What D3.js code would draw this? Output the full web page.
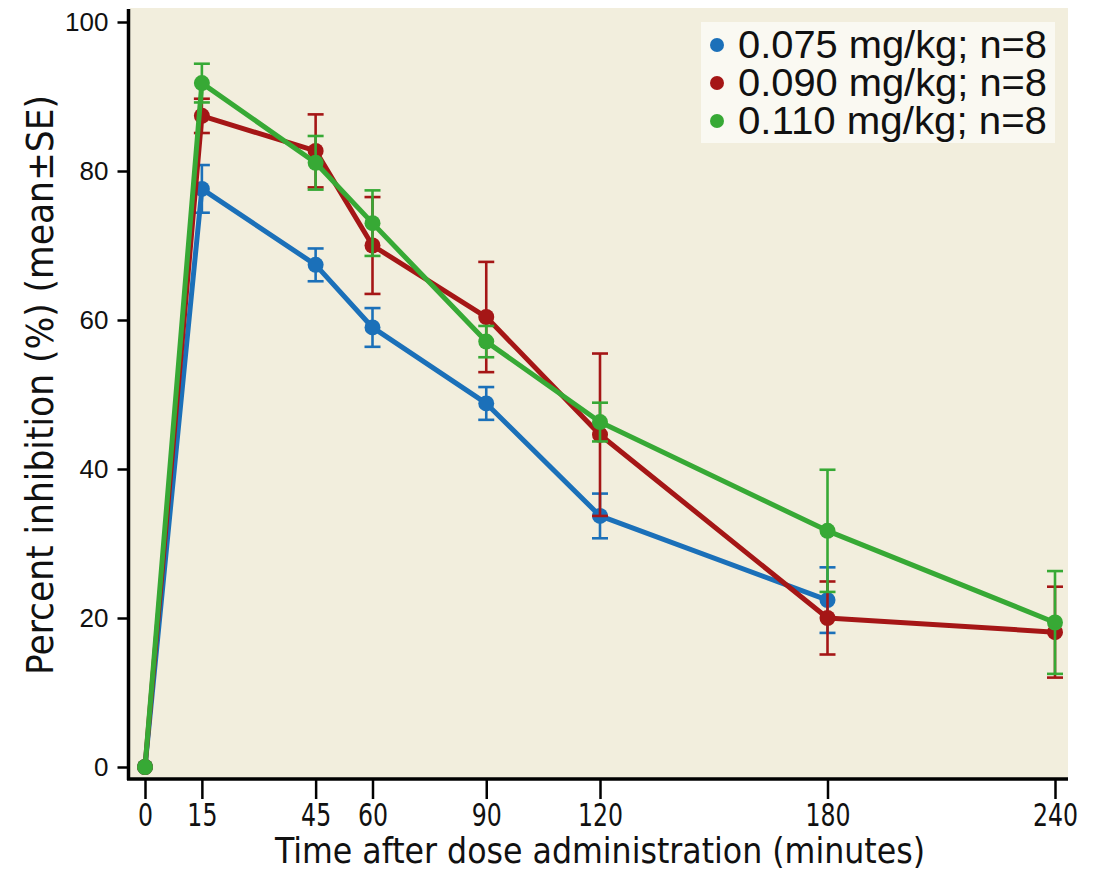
<!DOCTYPE html>
<html>
<head>
<meta charset="utf-8">
<script src="https://cdn.jsdelivr.net/npm/d3@7"></script>
<style>
  html, body { margin: 0; padding: 0; background: #fff; }
  svg { display: block; }
</style>
</head>
<body>
<div id="chart"></div>
<script>
  // Time points (minutes)
  const times = [0, 15, 45, 60, 90, 120, 180, 240];
  const tickValues = [0, 15, 45, 60, 90, 120, 180, 240];
  const yTicks = [0, 20, 40, 60, 80, 100];

  const seriesNames = ['0.075 mg/kg; n=8', '0.090 mg/kg; n=8', '0.110 mg/kg; n=8'];
  const seriesColors = ['#1b70b9', '#a51616', '#37a935'];

  // mean values, null where not measured
  const meanLow = [0, 77.6, 67.4, 59.0, 48.8, 33.7, 22.4, null];
  const meanMid = [0, 87.4, 82.7, 70.0, 60.4, 44.6, 20.0, 18.1];
  const meanHigh = [0, 91.8, 81.1, 73.0, 57.1, 46.3, 31.7, 19.4];

  // standard errors
  const seLow = [0, 3.2, 2.2, 2.6, 2.2, 3.0, 4.4, null];
  const seMid = [0, 2.3, 4.9, 6.5, 7.4, 10.9, 4.9, 6.1];
  const seHigh = [0, 2.6, 3.6, 4.4, 2.1, 2.6, 8.2, 6.9];

  const W = 1097, H = 872;
  const m = { left: 130, right: 30, top: 8, bottom: 94 };
  const narrow = '"DejaVu Sans Condensed", "Liberation Sans Narrow", sans-serif';

  const svg = d3.select('#chart').append('svg')
    .attr('width', W)
    .attr('height', H);

  const x = d3.scaleLinear().domain([0, 240]).range([145, 1055]);
  const y = d3.scaleLinear().domain([0, 100]).range([767, 22]);

  // plot background
  svg.append('rect')
    .attr('x', m.left)
    .attr('y', m.top)
    .attr('width', W - m.right - m.left + 1)
    .attr('height', H - m.bottom - m.top)
    .attr('fill', '#f2eedd');

  // axes
  const xAxis = svg.append('g')
    .attr('transform', `translate(0, ${H - m.bottom + 1})`)
    .call(d3.axisBottom(x).tickValues(tickValues).tickSize(20).tickPadding(4).tickSizeOuter(0));
  xAxis.select('.domain').attr('d', `M${m.left - 3},0H${W - m.right + 1}`).attr('stroke-width', 3.5);
  xAxis.selectAll('.tick line').attr('stroke-width', 2.5);
  xAxis.selectAll('.tick text')
    .attr('font-family', narrow)
    .attr('font-size', 32)
    .attr('transform', 'scale(0.82,1)')
    .attr('fill', '#111');

  const yAxis = svg.append('g')
    .attr('transform', `translate(${m.left - 1.5}, 0)`)
    .call(d3.axisLeft(y).tickValues(yTicks).tickSize(11).tickPadding(9).tickSizeOuter(0));
  yAxis.select('.domain').attr('d', `M0,${m.top + 1}V${H - m.bottom + 2}`).attr('stroke-width', 3.5);
  yAxis.selectAll('.tick line').attr('stroke-width', 2.5);
  yAxis.selectAll('.tick text')
    .attr('font-family', '"Liberation Sans", Arial, sans-serif')
    .attr('font-size', 26)
    .attr('fill', '#111');

  // axis titles
  svg.append('text')
    .attr('x', 600)
    .attr('y', 863)
    .attr('text-anchor', 'middle')
    .attr('font-family', narrow)
    .attr('font-size', 36)
    .attr('textLength', 650)
    .attr('lengthAdjust', 'spacingAndGlyphs')
    .attr('fill', '#111')
    .text('Time after dose administration (minutes)');

  svg.append('text')
    .attr('transform', `translate(53, 385) rotate(-90)`)
    .attr('text-anchor', 'middle')
    .attr('font-family', narrow)
    .attr('font-size', 37)
    .attr('textLength', 580)
    .attr('lengthAdjust', 'spacingAndGlyphs')
    .attr('fill', '#111')
    .text('Percent inhibition (%) (mean±SE)');

  const series = [
    { name: seriesNames[0], color: seriesColors[0], mean: meanLow, se: seLow },
    { name: seriesNames[1], color: seriesColors[1], mean: meanMid, se: seMid },
    { name: seriesNames[2], color: seriesColors[2], mean: meanHigh, se: seHigh }
  ].map(s => ({
    ...s,
    points: times.map((t, i) => ({ t, v: s.mean[i], e: s.se[i] })).filter(p => p.v != null)
  }));

  const line = d3.line().x(d => x(d.t)).y(d => y(d.v));
  const plot = svg.append('g');

  series.forEach(s => {
    const g = plot.append('g');
    // error bars
    const eb = g.selectAll('g.err')
      .data(s.points.filter(p => p.e > 0))
      .enter().append('g')
      .attr('stroke', s.color)
      .attr('stroke-width', 2.6);
    eb.append('line')
      .attr('x1', d => x(d.t)).attr('x2', d => x(d.t))
      .attr('y1', d => y(d.v + d.e)).attr('y2', d => y(d.v - d.e));
    eb.append('line')
      .attr('x1', d => x(d.t) - 8).attr('x2', d => x(d.t) + 8)
      .attr('y1', d => y(d.v + d.e)).attr('y2', d => y(d.v + d.e));
    eb.append('line')
      .attr('x1', d => x(d.t) - 8).attr('x2', d => x(d.t) + 8)
      .attr('y1', d => y(d.v - d.e)).attr('y2', d => y(d.v - d.e));

    g.append('path')
      .datum(s.points)
      .attr('fill', 'none')
      .attr('stroke', s.color)
      .attr('stroke-width', 5)
      .attr('stroke-linejoin', 'round')
      .attr('d', line);

    g.selectAll('circle')
      .data(s.points)
      .enter().append('circle')
      .attr('cx', d => x(d.t))
      .attr('cy', d => y(d.v))
      .attr('r', 8)
      .attr('fill', s.color);
  });

  // legend
  const legend = svg.append('g').attr('transform', 'translate(701, 22)');
  legend.append('rect')
    .attr('width', 354)
    .attr('height', 121)
    .attr('fill', '#faf9f2');
  const items = legend.selectAll('g.item')
    .data(series)
    .enter().append('g')
    .attr('transform', (d, i) => `translate(0, ${23 + i * 38})`);
  items.append('circle')
    .attr('cx', 16)
    .attr('cy', 0)
    .attr('r', 7)
    .attr('fill', d => d.color);
  items.append('text')
    .attr('x', 37)
    .attr('y', 13)
    .attr('font-family', '"Liberation Sans", Arial, sans-serif')
    .attr('font-size', 38)
    .attr('textLength', 309)
    .attr('lengthAdjust', 'spacingAndGlyphs')
    .attr('fill', '#111')
    .text(d => d.name);
</script>
</body>
</html>
